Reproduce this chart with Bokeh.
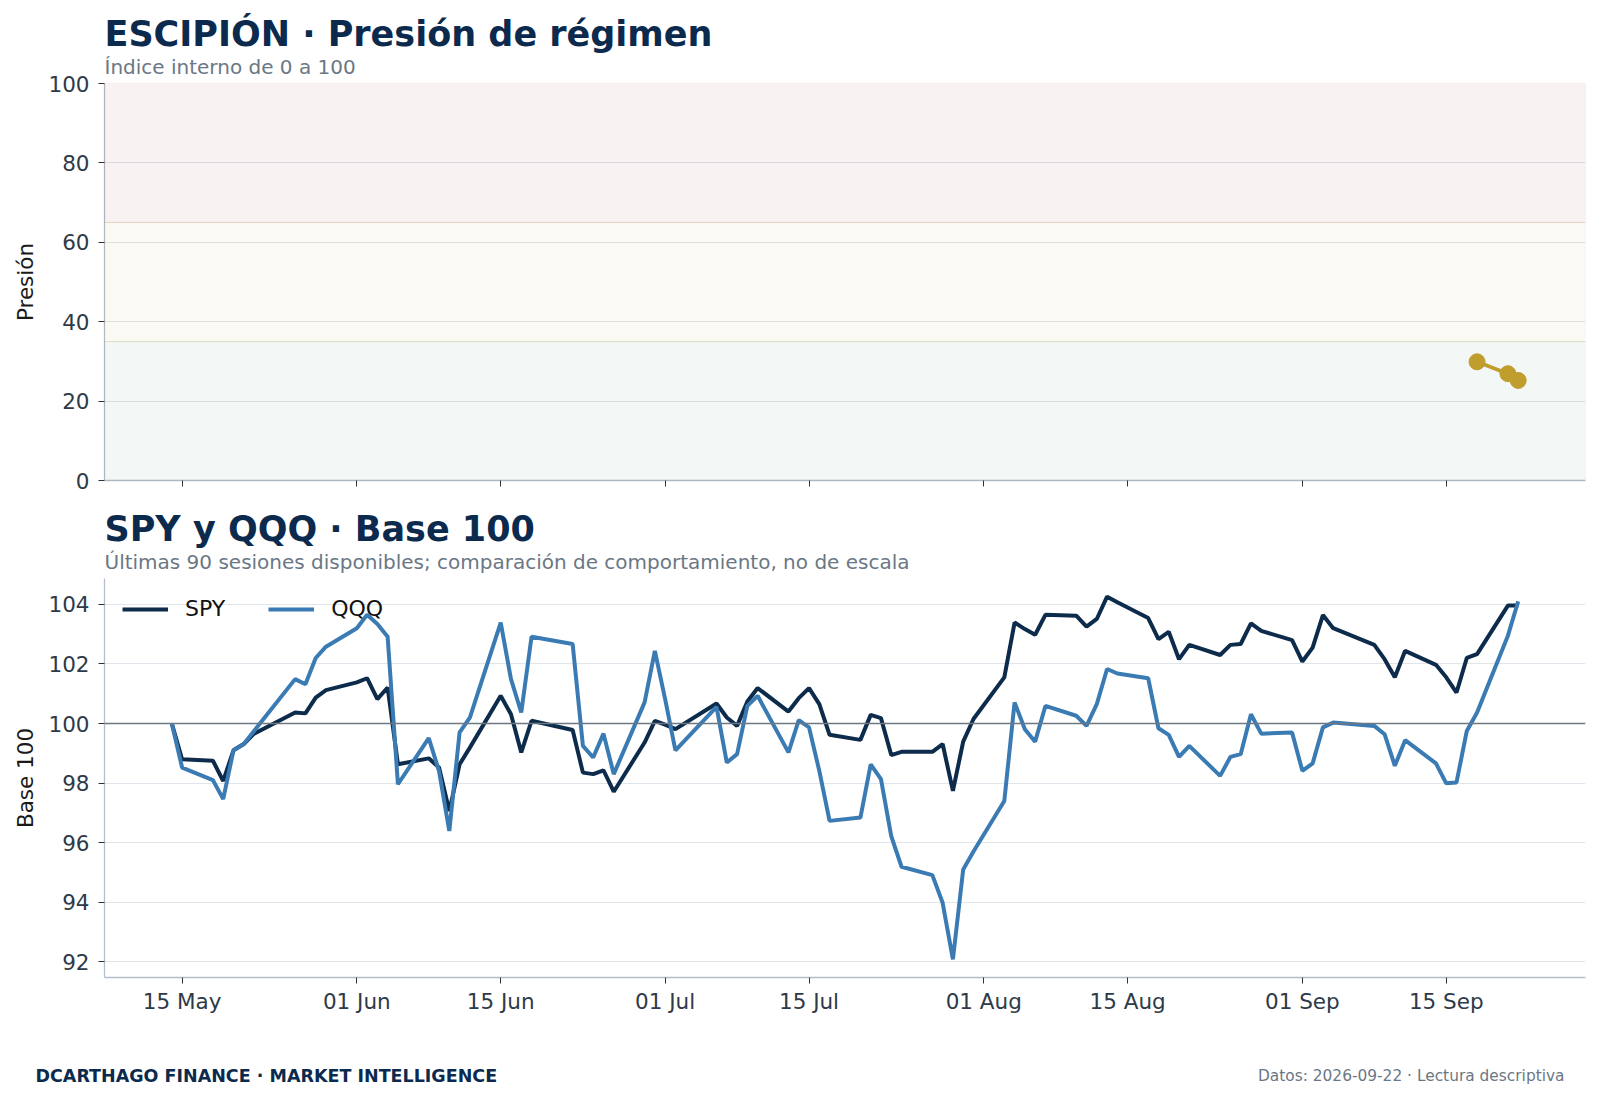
import pandas as pd
from bokeh.plotting import figure
from bokeh.layouts import column, row
from bokeh.models import (Range1d, FixedTicker, DatetimeTickFormatter, Title,
                          BoxAnnotation, Span, Label, CustomJSTickFormatter)
from bokeh.embed import file_html
from bokeh.resources import INLINE

# ---- data -------------------------------------------------------------
holidays = ["2026-05-25", "2026-06-19", "2026-07-03", "2026-09-07"]
sessions = pd.bdate_range("2026-05-14", "2026-09-22", freq="C", holidays=holidays)

spy = [100.00, 98.80, 98.75, 98.07, 99.10, 99.31, 99.66, 100.37, 100.34, 100.87, 101.12,
       101.38, 101.52, 100.82, 101.21, 98.63, 98.83, 98.52, 97.06, 98.63, 99.19, 100.93,
       100.31, 99.03, 100.09, 99.78, 98.35, 98.30, 98.43, 97.71, 99.36, 100.09,
       99.96, 99.81, 100.67, 100.20, 99.92, 100.74, 101.19, 100.40, 100.85, 101.19, 100.65,
       99.62, 99.45, 100.29, 100.18, 98.94, 99.05, 99.05, 99.31, 97.74, 99.39, 100.15,
       101.55, 103.39, 103.17, 102.98, 103.65, 103.62, 103.25, 103.51, 104.26, 104.07,
       103.54, 102.83, 103.08, 102.16, 102.64, 102.30, 102.64, 102.67, 103.36, 103.11, 102.80,
       102.08, 102.55, 103.64, 103.20, 102.64, 102.16, 101.55, 102.44, 101.97, 101.55,
       101.04, 102.20, 102.33, 103.96, 103.96]

qqq = [100.00, 98.52, 98.10, 97.46, 99.10, 99.31, 99.75, 101.49, 101.32, 102.20, 102.58,
       103.20, 103.65, 103.34, 102.91, 97.96, 99.51, 98.40, 96.39, 99.70, 100.20, 103.39,
       101.49, 100.37, 102.91, 102.67, 99.25, 98.86, 99.66, 98.30, 100.71, 102.44,
       100.82, 99.10, 100.56, 98.69, 98.97, 100.59, 100.93, 99.03, 100.11, 99.87, 98.41,
       96.73, 96.84, 98.63, 98.13, 96.22, 95.19, 94.91, 93.98, 92.08, 95.10, 95.70,
       97.40, 100.71, 99.81, 99.39, 100.59, 100.26, 99.92, 100.65, 101.83, 101.68,
       101.52, 99.84, 99.62, 98.88, 99.25, 98.24, 98.88, 98.97, 100.31, 99.66, 99.70,
       98.41, 98.66, 99.87, 100.03, 99.92, 99.64, 98.58, 99.44, 98.66, 97.99,
       98.02, 99.75, 100.37, 102.95, 104.10]

pressure_dates = pd.to_datetime(["2026-09-18", "2026-09-21", "2026-09-22"])
pressure = [29.9, 26.9, 25.2]

# regime bands (lower, upper, colour)
band_lo = [0, 35, 65]
band_hi = [35, 65, 100]
band_colors = ["#377a58", "#c19b2b", "#8a2626"]

base_level = 100
tick_dates = ["2026-05-15", "2026-06-01", "2026-06-15", "2026-07-01", "2026-07-15",
              "2026-08-01", "2026-08-15", "2026-09-01", "2026-09-15"]

# ---- styles -------------------------------------------------------------
FONT = "DejaVu Sans"
NAVY = "#0c2a4d"
GREY = "#6b7785"
TICK_TXT = "#2e3a48"
W = 1592
LEFT = 104
RIGHT = 7

span_days = sessions[-1] - sessions[0]
x_range = Range1d(start=(sessions[0] - span_days * 0.05).to_pydatetime(),
                  end=(sessions[-1] + span_days * 0.05).to_pydatetime())
tick_ms = [pd.Timestamp(d).value / 1e6 for d in tick_dates]


def add_titles(p, main, sub):
    p.add_layout(Title(text=sub, text_font=FONT, text_font_size="20px",
                       text_font_style="normal", text_color=GREY, standoff=9), "above")
    p.add_layout(Title(text=main, text_font=FONT, text_font_size="35px",
                       text_font_style="bold", text_color=NAVY, standoff=-11), "above")


def style_axes(p, yticks, ylabel):
    p.outline_line_color = None
    p.xgrid.visible = False
    p.ygrid.grid_line_color = "#e0e5eb"
    p.ygrid.grid_line_width = 1.2
    p.yaxis.ticker = FixedTicker(ticks=yticks)
    p.xaxis.ticker = FixedTicker(ticks=tick_ms)
    p.xaxis.formatter = DatetimeTickFormatter(days="%d %b", months="%d %b", years="%d %b",
                                              hours="%d %b", hourmin="%d %b")
    for ax in (p.xaxis, p.yaxis):
        ax.axis_line_color = "#b4bfcb"
        ax.axis_line_width = 1.3
        ax.major_tick_line_color = "#333333"
        ax.major_tick_out = 6
        ax.major_tick_in = 0
        ax.minor_tick_line_color = None
        ax.major_label_text_font = FONT
        ax.major_label_text_font_size = "21.5px"
        ax.major_label_text_color = TICK_TXT
    p.yaxis.major_label_standoff = 9
    p.yaxis.axis_label = ylabel
    p.yaxis.axis_label_text_font = FONT
    p.yaxis.axis_label_text_font_size = "21.5px"
    p.yaxis.axis_label_text_font_style = "normal"
    p.yaxis.axis_label_text_color = "#1a1a1a"
    p.yaxis.axis_label_standoff = 7


# ---- top panel: pressure --------------------------------------------------
top = figure(x_axis_type="datetime", width=W, height=495, x_range=x_range,
             y_range=Range1d(0, 100), output_backend="svg", toolbar_location=None,
             min_border_left=LEFT, min_border_right=RIGHT, min_border_top=83,
             min_border_bottom=15)
add_titles(top, "ESCIPIÓN · Presión de régimen", "Índice interno de 0 a 100")
style_axes(top, [0, 20, 40, 60, 80, 100], "Presión")
top.xaxis.formatter = CustomJSTickFormatter(code="return ''")
top.xaxis.major_label_standoff = 0

for lo, hi, c in zip(band_lo, band_hi, band_colors):
    top.add_layout(BoxAnnotation(bottom=lo, top=hi, fill_color=c, fill_alpha=0.06,
                                 line_color=c, line_alpha=0.12, line_width=1))

top.line(pressure_dates, pressure, line_color="#c9a12b", line_width=3.8)
top.scatter(pressure_dates, pressure, size=16, fill_color="#c9a12b", line_color="#c9a12b")

# ---- bottom panel: SPY / QQQ --------------------------------------------
lo_v = min(min(spy), min(qqq))
hi_v = max(max(spy), max(qqq))
pad = (hi_v - lo_v) * 0.05
bot = figure(x_axis_type="datetime", width=W, height=545, x_range=x_range,
             y_range=Range1d(lo_v - pad, hi_v + pad), output_backend="svg",
             toolbar_location=None, min_border_left=LEFT, min_border_right=RIGHT,
             min_border_top=83, min_border_bottom=63)
add_titles(bot, "SPY y QQQ · Base 100",
           "Últimas 90 sesiones disponibles; comparación de comportamiento, no de escala")
style_axes(bot, [92, 94, 96, 98, 100, 102, 104], "Base 100")
bot.xaxis.major_label_standoff = 5

bot.add_layout(Span(location=base_level, dimension="width", line_color="#6e7883",
                    line_width=1.4))
bot.line(sessions, spy, line_color="#0d2b4b", line_width=4, legend_label="SPY")
bot.line(sessions, qqq, line_color="#3b7bb4", line_width=4, legend_label="QQQ")

lg = bot.legend[0]
lg.location = "top_left"
lg.orientation = "horizontal"
lg.background_fill_alpha = 0
lg.border_line_color = None
lg.label_text_font = FONT
lg.label_text_font_size = "22px"
lg.label_text_color = "#111111"
lg.glyph_width = 46
lg.label_standoff = 17
lg.spacing = 43
lg.margin = 18
lg.padding = 0

# ---- footer -------------------------------------------------------------
foot = figure(width=W, height=61, x_range=Range1d(0, W), y_range=Range1d(0, 61),
              output_backend="svg", toolbar_location=None, x_axis_location=None,
              y_axis_location=None, min_border_left=0, min_border_right=0,
              min_border_top=0, min_border_bottom=0)
foot.outline_line_color = None
foot.grid.visible = False
foot.add_layout(Label(x=35, y=26, text="DCARTHAGO FINANCE · MARKET INTELLIGENCE",
                      text_font=FONT, text_font_size="17.5px", text_font_style="bold",
                      text_color=NAVY, text_align="left", text_baseline="middle"))
foot.add_layout(Label(x=1564, y=26, text="Datos: 2026-09-22 · Lectura descriptiva",
                      text_font=FONT, text_font_size="15.4px", text_color=GREY,
                      text_align="right", text_baseline="middle"))

layout = column(top, bot, row(foot))
open("out.html", "w").write(file_html(layout, INLINE))
